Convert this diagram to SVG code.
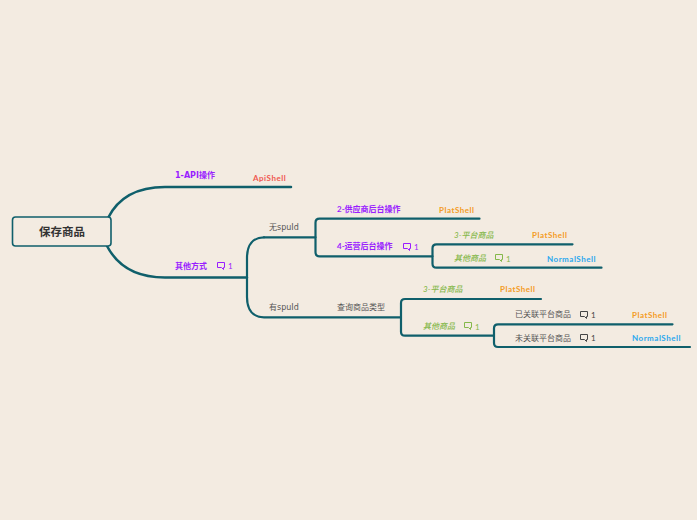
<svg xmlns="http://www.w3.org/2000/svg" width="697" height="520" viewBox="0 0 697 520">
<style>
text{font-family:"Lato","Noto Sans CJK SC",sans-serif;font-size:8px}
.l{fill:none;stroke:#0f5f6b;stroke-width:2.2;stroke-linecap:round;stroke-linejoin:round}
.lt{stroke-width:2.5}
.p{fill:#9a1eff;font-weight:700}
.o{fill:#f49b25;font-weight:700;letter-spacing:.5px}
.r{fill:#f0584f;font-weight:700;letter-spacing:.5px}
.b{fill:#2ba8ee;font-weight:700;letter-spacing:.5px}
.g{fill:#85b84a;font-style:italic;font-weight:500}
.d{fill:#555}
.m{font-family:"DejaVu Sans","Noto Sans CJK SC",sans-serif}
.ic{fill:none;stroke-width:1}
</style>
<defs>
<path id="c" d="M0.5 0.5H7.500V5.500H6.500V7.500L4.500 5.500H0.500Z"/>
</defs>
<rect width="697" height="520" fill="#f3ebe1"/>
<g id="connectors">
<path class="l lt" d="M108 218C118 198 137 187 165 187H291"/>
<path class="l lt" d="M107 246C118 267 137 277.500 165 277.500H247"/>
<path class="l" d="M264 237.300C253 237.300 247 245 247 258V297C247 310 253 317.300 264 317.300H401"/>
<path class="l" d="M264 237.300H315.500"/>
<path class="l" d="M479.500 218.700H319.500Q315.500 218.700 315.500 222.700V252.300Q315.500 256.300 319.500 256.300H432.500"/>
<path class="l" d="M572.500 244.300H436.500Q432.500 244.300 432.500 248.300V263.700Q432.500 267.700 436.500 267.700H601.500"/>
<path class="l" d="M541 299H405Q401 299 401 303V331.700Q401 335.700 405 335.700H494"/>
<path class="l" d="M672.500 324.300H498Q494 324.300 494 328.300V343Q494 347 498 347H690"/>
</g>
<g id="root"><rect x="12.500" y="217" width="98.500" height="29" rx="3" fill="#f3ebe1" stroke="#0f5f6b" stroke-width="1.600"/><text x="62" y="235.500" text-anchor="middle" style="font-size:11.500px;font-weight:700" fill="#333">保存商品</text></g>
<g id="n1"><text x="175" y="178" class="p m">1-API操作</text></g>
<g id="n1a"><text x="253" y="181" class="r">ApiShell</text></g>
<g id="n2"><text x="175" y="269" class="p">其他方式</text><use href="#c" x="217" y="262" class="ic" stroke="#9a1eff"/><text x="228" y="269" fill="#9a1eff">1</text></g>
<g id="n3"><text x="269" y="230" class="d m">无spuId</text></g>
<g id="n4"><text x="269" y="310" class="d m">有spuId</text></g>
<g id="n5"><text x="337" y="212" class="p">2-供应商后台操作</text></g>
<g id="n5a"><text x="439" y="213" class="o">PlatShell</text></g>
<g id="n6"><text x="337" y="249" class="p">4-运营后台操作</text><use href="#c" x="403" y="243" class="ic" stroke="#9a1eff"/><text x="414" y="250" fill="#9a1eff">1</text></g>
<g id="n7"><text x="454" y="238" class="g">3-平台商品</text></g>
<g id="n7a"><text x="532" y="238" class="o">PlatShell</text></g>
<g id="n8"><text x="454" y="261" class="g">其他商品</text><use href="#c" x="495" y="254" class="ic" stroke="#85b84a"/><text x="506" y="262" fill="#85b84a">1</text></g>
<g id="n8a"><text x="547" y="262" class="b">NormalShell</text></g>
<g id="n9"><text x="337" y="310" class="d">查询商品类型</text></g>
<g id="n10"><text x="423" y="292" class="g">3-平台商品</text></g>
<g id="n10a"><text x="500" y="292" class="o">PlatShell</text></g>
<g id="n11"><text x="423" y="329" class="g">其他商品</text><use href="#c" x="464" y="322" class="ic" stroke="#85b84a"/><text x="475" y="330" fill="#85b84a">1</text></g>
<g id="n12"><text x="515" y="317" class="d">已关联平台商品</text><use href="#c" x="580" y="311" class="ic" stroke="#444"/><text x="591" y="318" fill="#444">1</text></g>
<g id="n12a"><text x="632" y="318" class="o">PlatShell</text></g>
<g id="n13"><text x="515" y="341" class="d">未关联平台商品</text><use href="#c" x="580" y="334" class="ic" stroke="#444"/><text x="591" y="341" fill="#444">1</text></g>
<g id="n13a"><text x="632" y="341" class="b">NormalShell</text></g>
</svg>
